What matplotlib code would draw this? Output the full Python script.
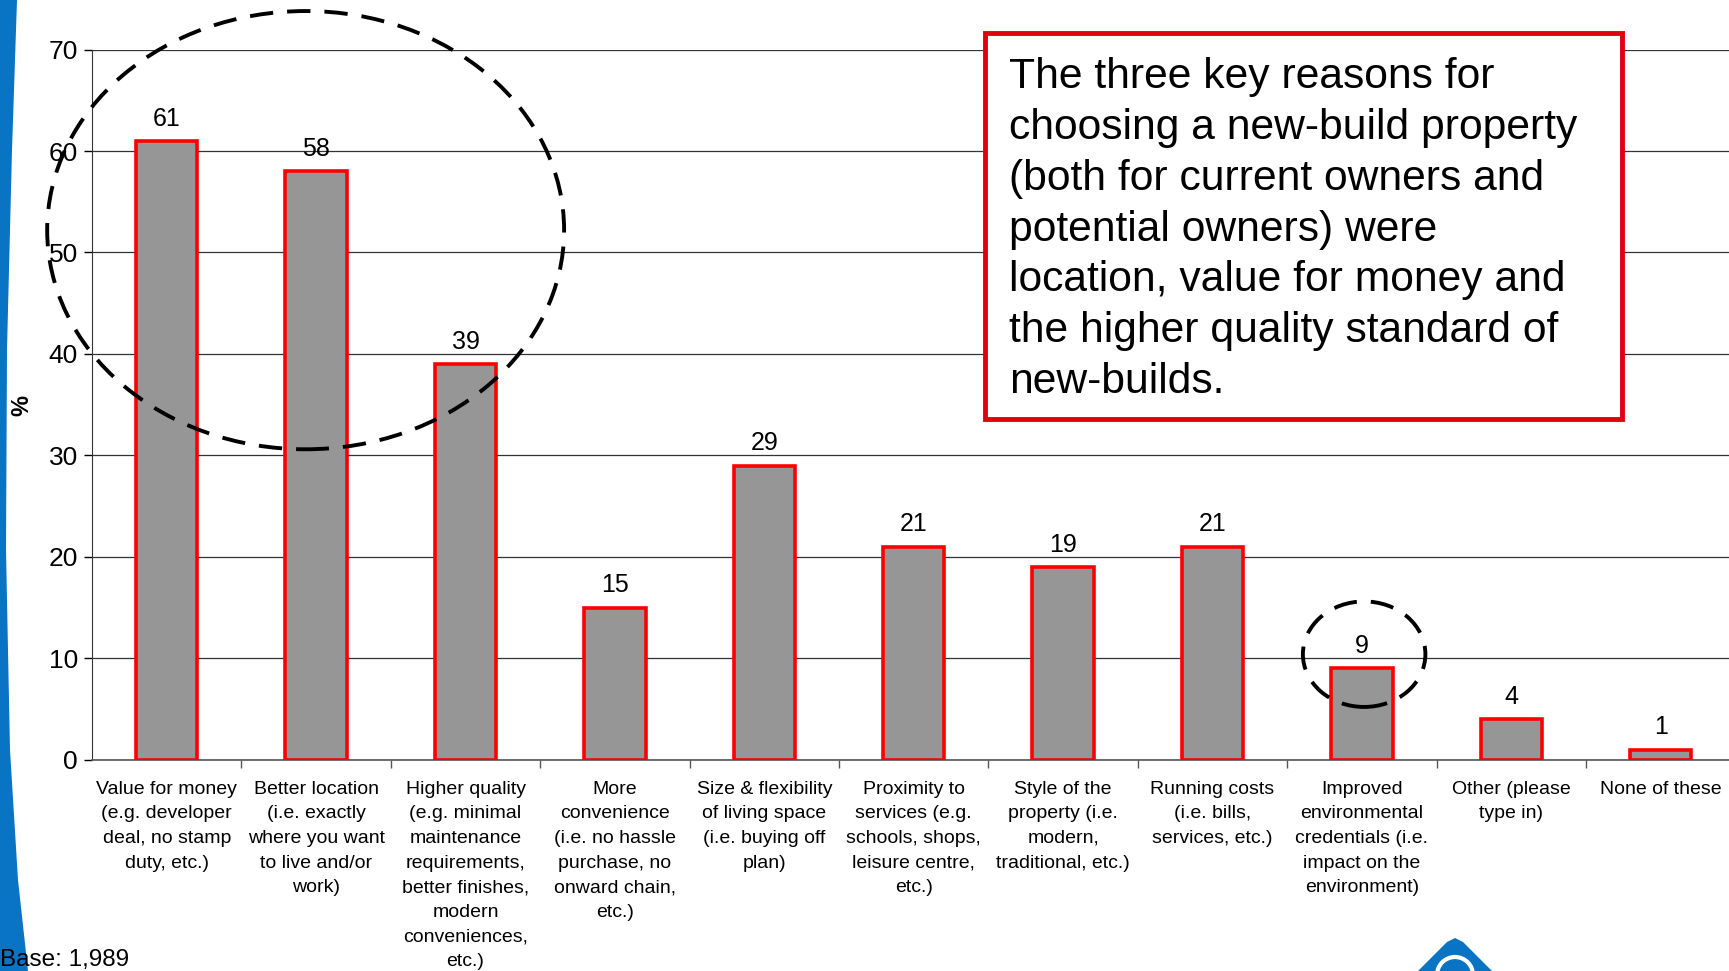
import matplotlib
matplotlib.use('Agg')
import matplotlib.pyplot as plt
from matplotlib.patches import Ellipse, Rectangle, Polygon
import numpy as np

plt.rcParams['font.family'] = ['Liberation Sans', 'DejaVu Sans']

categories = [
    "Value for money\n(e.g. developer\ndeal, no stamp\nduty, etc.)",
    "Better location\n(i.e. exactly\nwhere you want\nto live and/or\nwork)",
    "Higher quality\n(e.g. minimal\nmaintenance\nrequirements,\nbetter finishes,\nmodern\nconveniences,\netc.)",
    "More\nconvenience\n(i.e. no hassle\npurchase, no\nonward chain,\netc.)",
    "Size & flexibility\nof living space\n(i.e. buying off\nplan)",
    "Proximity to\nservices (e.g.\nschools, shops,\nleisure centre,\netc.)",
    "Style of the\nproperty (i.e.\nmodern,\ntraditional, etc.)",
    "Running costs\n(i.e. bills,\nservices, etc.)",
    "Improved\nenvironmental\ncredentials (i.e.\nimpact on the\nenvironment)",
    "Other (please\ntype in)",
    "None of these",
]
values = [61, 58, 39, 15, 29, 21, 19, 21, 9, 4, 1]
yticks = [0, 10, 20, 30, 40, 50, 60, 70]

note = ("The three key reasons for\nchoosing a new-build property\n(both for current owners and\n"
        "potential owners) were\nlocation, value for money and\nthe higher quality standard of\nnew-builds.")

W, H = 1729, 971
fig = plt.figure(figsize=(W / 100, H / 100), dpi=100)
fig.patch.set_facecolor('white')


def px(x, y):
    # figure pixel coords (top-left origin) -> figure fraction
    return x / W, 1 - y / H


# left decorative blue stripe
stripe = [(0, 0), (17, 0), (12, 150), (7, 350), (6, 550), (10, 750), (18, 880), (28, 971), (0, 971)]
fig.patches.append(Polygon([px(*p) for p in stripe], closed=True, transform=fig.transFigure,
                           facecolor='#0a74c4', edgecolor='none', zorder=0))

ax = fig.add_axes([92 / W, 1 - 759.7 / H, 1643.4 / W, 710.1 / H])
x = np.arange(len(values))
ax.bar(x, values, width=0.41, color='#969696', edgecolor='#ff0000', linewidth=2.6, zorder=3)
for xi, v in zip(x, values):
    ax.text(xi, v + 1.5, str(v), ha='center', va='baseline', fontsize=18, color='black', zorder=4)

ax.set_xlim(-0.5, len(values) - 0.5)
ax.set_ylim(0, 70)
ax.set_yticks(yticks)
ax.yaxis.grid(True, color='#333333', linewidth=0.9, zorder=0)
ax.set_axisbelow(True)
ax.tick_params(axis='y', labelsize=19, length=6, width=1, pad=4, direction='out')
ax.set_xticks(x)
ax.set_xticklabels(categories, fontsize=14, linespacing=1.59, va='top')
ax.tick_params(axis='x', which='major', length=0, pad=15)
ax.set_xticks(np.arange(0.5, len(values) - 0.5, 1.0), minor=True)
ax.tick_params(axis='x', which='minor', length=6, width=1, direction='out', color='#555555')
for s in ['top', 'right']:
    ax.spines[s].set_visible(False)
ax.spines['left'].set_color('#333333')
ax.spines['bottom'].set_color('#555555')
ax.spines['bottom'].set_linewidth(1.2)

fig.text(22 / W, 1 - 405 / H, '%', rotation=90, fontsize=17, fontweight='bold', ha='center', va='center')

# dashed highlight circles
ax.add_patch(Ellipse((0.93, 52.2), 2 * 1.73, 2 * 21.6, fill=False, edgecolor='black', linewidth=2.8,
                     linestyle=(0, (6, 3.6)), clip_on=False, zorder=5))
ax.add_patch(Ellipse((8.015, 10.4), 2 * 0.41, 2 * 5.2, fill=False, edgecolor='black', linewidth=2.8,
                     linestyle=(0, (6, 3.6)), clip_on=False, zorder=5))

# annotation box
x0, y0 = px(984.7, 419)
fig.patches.append(Rectangle((x0, y0), 637.3 / W, 386 / H, transform=fig.transFigure,
                             facecolor='white', edgecolor='#e0000f', linewidth=3.5, zorder=6))
fig.text(1009 / W, 1 - 57 / H, note, fontsize=30.7, linespacing=1.35, ha='left', va='top',
         color='black', zorder=7)

fig.text(0, 1 - 960 / H, 'Base: 1,989', fontsize=17.5, ha='left', va='center')

# small logo at bottom
logo = [(1418, 971), (1447, 942), (1455, 938), (1463, 942), (1492, 971)]
fig.patches.append(Polygon([px(*p) for p in logo], closed=True, transform=fig.transFigure,
                           facecolor='#0a74c4', edgecolor='none', zorder=1))
fig.patches.append(Ellipse(px(1455, 975), 36 / W, 36 / H, transform=fig.transFigure,
                           facecolor='none', edgecolor='white', linewidth=3, zorder=2))

fig.savefig('out.png', dpi=100, facecolor='white')
